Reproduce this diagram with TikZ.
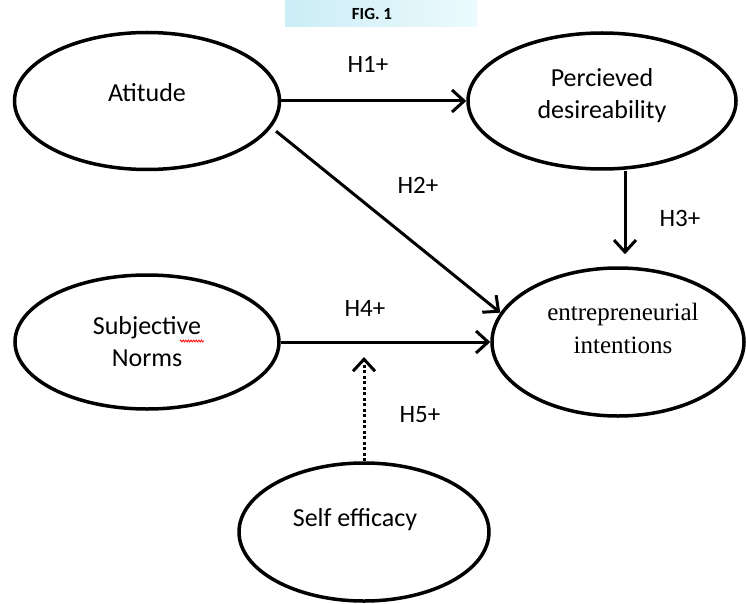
\documentclass[tikz,border=0pt]{standalone}
\usepackage{fontspec}
\setmainfont{Carlito}
\newfontfamily\timesfont{Liberation Serif}
\usetikzlibrary{shapes.geometric,arrows.meta,decorations.pathmorphing}
\definecolor{bandleft}{RGB}{203,237,245}
\definecolor{bandright}{RGB}{236,250,253}

\begin{document}
\begin{tikzpicture}[x=1pt,y=-1pt,
  oval/.style={ellipse,draw=black,line width=3.5pt,inner sep=0pt},
  ovaltext/.style={align=center,font=\fontsize{26}{32}\selectfont},
  hyp/.style={font=\fontsize{25}{30}\selectfont},
  link/.style={line width=3pt,-{Straight Barb[length=12pt,width=22pt,line width=3pt]}},
  modlink/.style={link,dash pattern=on 3pt off 2.5pt}]
\useasboundingbox (0,0) rectangle (746,604);
% caption band
\shade[left color=bandleft,right color=bandright] (285,0) rectangle (477,27);
\node[font=\bfseries\fontsize{17}{20}\selectfont] (fig) at (372,14) {FIG. 1};
% constructs
\node[oval,minimum width=265pt,minimum height=137pt] (att) at (147,101) {};
\node[ovaltext] (atttext) at (147,93) {Atitude};
\node[oval,minimum width=268pt,minimum height=136pt] (pd) at (602,101) {};
\node[ovaltext] (pdtext) at (602,96) {Percieved\\desireability};
\node[oval,minimum width=252pt,minimum height=148pt] (ei) at (618,342) {};
\node[ovaltext,font=\timesfont\fontsize{25}{33}\selectfont] (eitext) at (623,328) {entrepreneurial\\intentions};
\node[oval,minimum width=264pt,minimum height=134pt] (sn) at (147,342) {};
\node[ovaltext] (sntext) at (147,342) {Subjective\\Norms};
\draw[red,line width=0.8pt,decorate,decoration={zigzag,amplitude=0.9pt,segment length=2.6pt}] (180,341) -- (204,341);
\node[oval,minimum width=250pt,minimum height=138pt] (se) at (364,532) {};
\node[ovaltext] (setext) at (355,520) {Self efficacy};
% paths
\draw[link] (att) -- (pd);
\draw[link,shorten <=6pt] (att.-12) -- (ei.166);
\draw[link] ([xshift=23pt]pd.south) -- ([xshift=7pt,yshift=12pt]ei.north);
\draw[link] (sn) -- (ei);
\coordinate (mod) at (364,357);
\draw[modlink] (se) -- (mod);
% hypotheses
\node[hyp] (h1) at (368,64) {H1+};
\node[hyp] (h2) at (418,185) {H2+};
\node[hyp] (h3) at (680,218) {H3+};
\node[hyp] (h4) at (365,308) {H4+};
\node[hyp] (h5) at (420,415) {H5+};
\end{tikzpicture}
\end{document}
